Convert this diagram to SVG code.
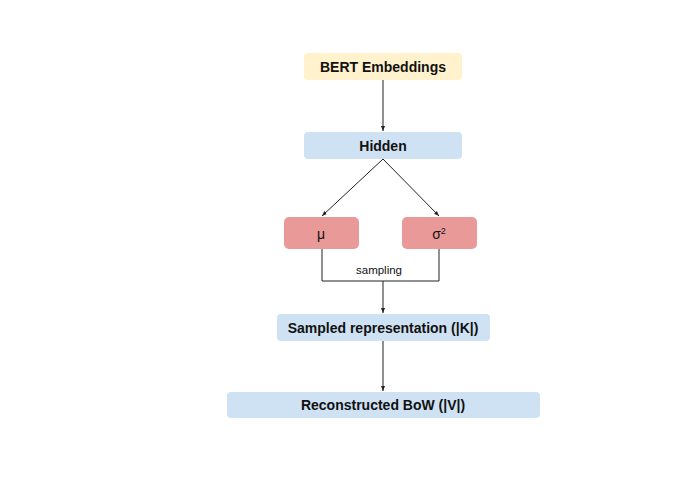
<svg xmlns="http://www.w3.org/2000/svg" width="680" height="500" viewBox="0 0 680 500">
<defs>
<marker id="ah" viewBox="0 0 10 10" refX="10" refY="5" markerWidth="5" markerHeight="5" orient="auto"><path d="M0,1 L10,5 L0,9 z" fill="#222"/></marker>
<style>
.lbl{font-family:"Liberation Sans",Arial,sans-serif;font-size:14px;font-weight:bold;fill:#111;text-anchor:middle}
.sm{font-family:"Liberation Sans",Arial,sans-serif;font-size:14px;fill:#111;text-anchor:middle}
.tiny{font-family:"Liberation Sans",Arial,sans-serif;font-size:11.5px;fill:#111;text-anchor:middle}
.blue{fill:#cfe2f3}
.red{fill:#ea9999}
.yel{fill:#fff2cc}
.ln{stroke:#222;stroke-width:1;fill:none}
</style>
</defs>
<rect width="680" height="500" fill="#fff"/>
<g id="connectors">
<line class="ln" x1="383" y1="80" x2="383" y2="131" marker-end="url(#ah)"/>
<line class="ln" x1="383" y1="159" x2="322" y2="216" marker-end="url(#ah)"/>
<line class="ln" x1="383" y1="159" x2="439" y2="216" marker-end="url(#ah)"/>
<polyline class="ln" points="322,249 322,281 439,281 439,249"/>
<line class="ln" x1="383" y1="281" x2="383" y2="313" marker-end="url(#ah)"/>
<line class="ln" x1="383" y1="341" x2="383" y2="391" marker-end="url(#ah)"/>
<text class="tiny" x="379" y="274">sampling</text>
</g>
<g id="bert"><rect class="yel" x="304" y="53" width="158" height="27" rx="4"/><text class="lbl" x="383" y="72">BERT Embeddings</text></g>
<g id="hidden"><rect class="blue" x="304" y="132" width="158" height="27" rx="4"/><text class="lbl" x="383" y="151">Hidden</text></g>
<g id="mu"><rect class="red" x="284" y="217" width="75" height="32" rx="5"/><text class="sm" x="321" y="239">μ</text></g>
<g id="sigma"><rect class="red" x="402" y="217" width="75" height="32" rx="5"/><text class="sm" x="439" y="239">σ<tspan font-size="9" dy="-5">2</tspan></text></g>
<g id="sampled"><rect class="blue" x="277" y="314" width="213" height="27" rx="4"/><text class="lbl" x="383" y="333">Sampled representation (|K|)</text></g>
<g id="recon"><rect class="blue" x="227" y="392" width="313" height="26" rx="4"/><text class="lbl" x="383" y="410">Reconstructed BoW (|V|)</text></g>
</svg>
